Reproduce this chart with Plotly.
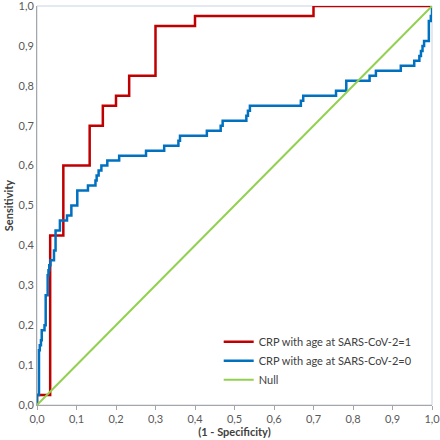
import plotly.graph_objects as go

# ROC data (corner points, drawn with step shape "hv")
red_fpr = [0, 0, 1/30, 2/30, 4/30, 5/30, 6/30, 7/30, 9/30, 12/30, 21/30, 1.0]
red_tpr = [0, 0.025, 0.425, 0.6, 0.7, 0.75, 0.775, 0.825, 0.95, 0.975, 1.0, 1.0]

blue_fpr = [0, 0, 0.005, 0.007, 0.010, 0.012, 0.019, 0.022, 0.027, 0.029, 0.031, 0.034,
            0.043, 0.047, 0.058, 0.076, 0.087, 0.102, 0.129, 0.148, 0.151, 0.156, 0.163,
            0.178, 0.208, 0.276, 0.322, 0.358, 0.362, 0.430, 0.465, 0.470, 0.530, 0.534,
            0.539, 0.668, 0.674, 0.757, 0.783, 0.842, 0.858, 0.921, 0.955, 0.968, 0.972,
            0.976, 0.980, 0.992, 0.997, 1.0]
blue_tpr = [0, 0.025, 0.1375, 0.15, 0.1625, 0.1875, 0.2, 0.275, 0.325, 0.3375, 0.35, 0.3625,
            0.3875, 0.4375, 0.4625, 0.475, 0.5, 0.5375, 0.55, 0.5625, 0.575, 0.5875, 0.6,
            0.6125, 0.625, 0.6375, 0.65, 0.6625, 0.675, 0.6875, 0.7, 0.7125, 0.725, 0.7375,
            0.75, 0.7625, 0.775, 0.7875, 0.8125, 0.825, 0.8375, 0.85, 0.8625, 0.875, 0.8875,
            0.9, 0.9125, 0.9625, 0.975, 1.0]

null_fpr = [0, 1]
null_tpr = [0, 1]

tick_vals = [0, 0.1, 0.2, 0.3, 0.4, 0.5, 0.6, 0.7, 0.8, 0.9, 1.0]
tick_text = ["0,0", "0,1", "0,2", "0,3", "0,4", "0,5", "0,6", "0,7", "0,8", "0,9", "1,0"]

FONT = "Lato, 'Open Sans', sans-serif"

fig = go.Figure()
fig.add_trace(go.Scatter(x=red_fpr, y=red_tpr, mode="lines", line_shape="hv",
                         line=dict(color="#C00000", width=2.5),
                         name="CRP with age at SARS-CoV-2=1"))
fig.add_trace(go.Scatter(x=blue_fpr, y=blue_tpr, mode="lines", line_shape="hv",
                         line=dict(color="#0070C0", width=2.5),
                         name="CRP with age at SARS-CoV-2=0"))
fig.add_trace(go.Scatter(x=null_fpr, y=null_tpr, mode="lines",
                         line=dict(color="#92D050", width=2),
                         name="Null"))

fig.update_layout(
    width=440, height=440,
    margin=dict(l=37, r=8, t=6, b=35),
    paper_bgcolor="white", plot_bgcolor="white",
    font=dict(family=FONT, size=11, color="#404040"),
    showlegend=True,
    legend=dict(x=0.46, y=0.195, xanchor="left", yanchor="top",
                bgcolor="rgba(0,0,0,0)", font=dict(size=11, color="#404040"),
                tracegroupgap=0),
    shapes=[dict(type="rect", xref="paper", yref="paper", x0=0, y0=0, x1=1, y1=1,
                 line=dict(color="#C8D3E3", width=1), layer="below")],
)
fig.update_xaxes(range=[0, 1], tickvals=tick_vals, ticktext=tick_text,
                 showgrid=False, zeroline=False, showline=True, linecolor="#A6A6A6",
                 linewidth=1, ticks="outside", ticklen=4, tickcolor="#A6A6A6",
                 tickfont=dict(size=11, color="#595959"), ticklabeloverflow="allow",
                 title=dict(text="<b>(1 - Specificity)</b>", font=dict(size=11, color="#404040"),
                            standoff=2),
                 automargin=False)
fig.update_yaxes(range=[0, 1], tickvals=tick_vals, ticktext=tick_text,
                 showgrid=False, zeroline=False, showline=True, linecolor="#A6A6A6",
                 linewidth=1, ticks="",
                 tickfont=dict(size=11, color="#595959"), ticklabeloverflow="allow",
                 title=dict(text="<b>Sensitivity</b>", font=dict(size=11, color="#404040"),
                            standoff=2),
                 automargin=False)

fig.write_html("out.html", config={"displayModeBar": False},
               post_script="document.body.style.margin='0px';document.body.style.overflow='hidden';")
